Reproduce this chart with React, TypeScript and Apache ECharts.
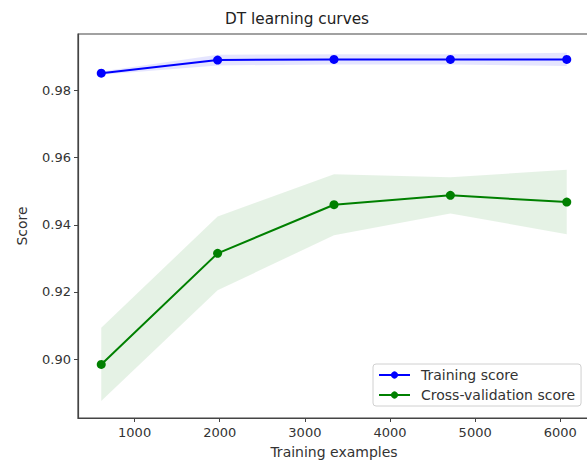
import React, { useEffect, useRef } from "react";
import * as echarts from "echarts";

const trainSizes = [608, 1975, 3342, 4709, 6076];
const trainMean = [0.9852, 0.9891, 0.9893, 0.9893, 0.9893];
const trainStd = [0.0005, 0.0016, 0.0015, 0.0015, 0.002];
const cvMean = [0.8984, 0.9315, 0.946, 0.9488, 0.9468];
const cvStd = [0.0109, 0.011, 0.0091, 0.0054, 0.0096];
const xTicks = [1000, 2000, 3000, 4000, 5000, 6000];
const yTicks = [0.9, 0.92, 0.94, 0.96, 0.98];

const FONT = "DejaVu Sans";

function bandSeries(name: string, mean: number[], std: number[], color: string) {
  return {
    type: "custom",
    name,
    silent: true,
    z: 1,
    data: [0],
    renderItem: (_params: any, api: any) => {
      const upper = trainSizes.map((x, i) => api.coord([x, mean[i] + std[i]]));
      const lower = trainSizes
        .map((x, i) => api.coord([x, mean[i] - std[i]]))
        .reverse();
      return {
        type: "polygon",
        shape: { points: upper.concat(lower) },
        style: { fill: color, stroke: "none" },
      };
    },
  };
}

export default function App() {
  const ref = useRef<HTMLDivElement>(null);
  useEffect(() => {
    if (!ref.current) return;
    const chart = echarts.init(ref.current, undefined, { renderer: "svg" });
    const tickText = { color: "#333", fontFamily: FONT, fontSize: 13 };
    const nameText = { color: "#333", fontFamily: FONT, fontSize: 14 };
    chart.setOption({
      animation: false,
      backgroundColor: "#fff",
      title: {
        text: "DT learning curves",
        left: 225,
        top: 11,
        padding: 0,
        textStyle: { fontFamily: FONT, fontSize: 15.3, fontWeight: "normal", color: "#222" },
      },
      grid: {
        left: 78,
        top: 34,
        width: 512,
        height: 384,
        show: true,
        borderColor: "#444",
        borderWidth: 1.2,
        backgroundColor: "transparent",
      },
      legend: {
        orient: "vertical",
        left: 373,
        top: 364,
        padding: [4, 6, 4, 5],
        itemGap: 6,
        itemWidth: 31,
        itemHeight: 9,
        backgroundColor: "#fff",
        borderColor: "#d0d0d0",
        borderWidth: 1,
        borderRadius: 3,
        data: ["Training score", "Cross-validation score"],
        textStyle: { fontFamily: FONT, fontSize: 14, color: "#333", padding: [0, 0, 0, 6] },
      },
      xAxis: {
        type: "value",
        min: 335,
        max: 6349,
        name: "Training examples",
        nameLocation: "middle",
        nameGap: 27,
        nameTextStyle: nameText,
        axisLine: { lineStyle: { color: "#444", width: 1.2 } },
        axisTick: { show: true, customValues: xTicks, length: 4, lineStyle: { color: "#444" } },
        axisLabel: {
          customValues: xTicks,
          margin: 8,
          formatter: (v: number) => String(v),
          ...tickText,
        },
        splitLine: { show: false },
      },
      yAxis: {
        type: "value",
        min: 0.88244,
        max: 0.99687,
        name: "Score",
        nameLocation: "middle",
        nameGap: 49,
        nameTextStyle: nameText,
        axisLine: { show: true, lineStyle: { color: "#444", width: 1.2 } },
        axisTick: { show: true, customValues: yTicks, length: 4, lineStyle: { color: "#444" } },
        axisLabel: {
          customValues: yTicks,
          margin: 7,
          formatter: (v: number) => v.toFixed(2),
          ...tickText,
        },
        splitLine: { show: false },
      },
      series: [
        bandSeries("trainBand", trainMean, trainStd, "rgba(0,0,255,0.1)"),
        bandSeries("cvBand", cvMean, cvStd, "rgba(0,128,0,0.1)"),
        {
          type: "line",
          name: "Training score",
          data: trainSizes.map((x, i) => [x, trainMean[i]]),
          color: "#0000ff",
          symbol: "circle",
          symbolSize: 9,
          showAllSymbol: true,
          lineStyle: { width: 2, color: "#0000ff" },
          itemStyle: { color: "#0000ff" },
          z: 3,
        },
        {
          type: "line",
          name: "Cross-validation score",
          data: trainSizes.map((x, i) => [x, cvMean[i]]),
          color: "#008000",
          symbol: "circle",
          symbolSize: 9,
          showAllSymbol: true,
          lineStyle: { width: 2, color: "#008000" },
          itemStyle: { color: "#008000" },
          z: 3,
        },
      ],
    });
    return () => chart.dispose();
  }, []);
  return (
    <div style={{ position: "fixed", left: 0, top: 0, width: 587, height: 466, overflow: "hidden", background: "#fff" }}>
      <div ref={ref} style={{ width: 600, height: 466 }} />
    </div>
  );
}
